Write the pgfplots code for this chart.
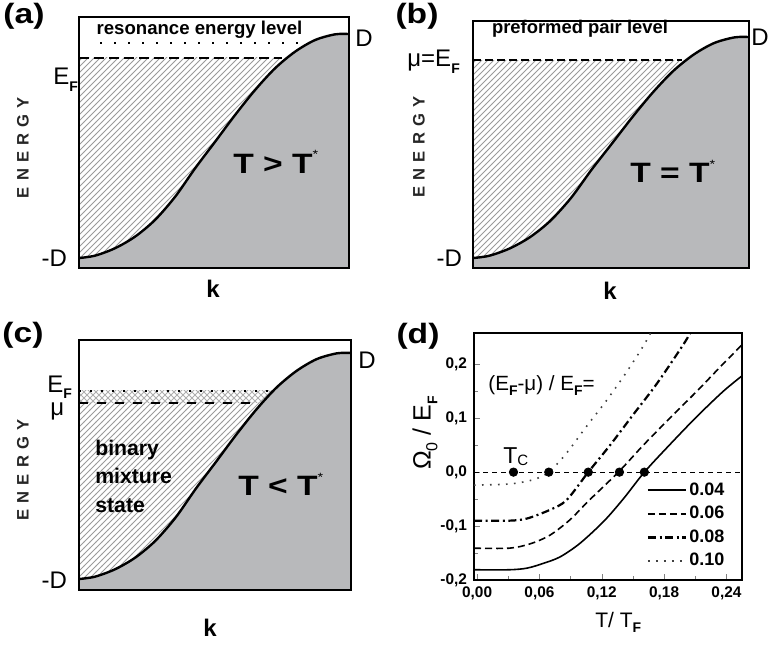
\documentclass[border=0pt]{standalone}
\usepackage{fontspec}
\setmainfont{Liberation Sans}
\usepackage{pgfplots}
\usepackage{pgfplotstable}
\pgfplotsset{compat=1.18}
\usepgfplotslibrary{fillbetween}
\usetikzlibrary{patterns}

\definecolor{shade}{HTML}{B8B9BB}
\definecolor{hatch}{HTML}{9A9A9A}

% band dispersion, k in [0,1], energy in units of D
\pgfplotstableread{
x y
0.000 -1.000
0.059 -0.979
0.133 -0.913
0.207 -0.810
0.281 -0.661
0.356 -0.453
0.430 -0.199
0.504 0.038
0.578 0.277
0.652 0.500
0.726 0.694
0.800 0.842
0.874 0.946
0.948 0.997
1.000 1.000
}\bandtab

% Omega_0/E_F vs T/T_F
\pgfplotstableread{
x y
-0.003 -0.181
0.031 -0.181
0.048 -0.178
0.064 -0.169
0.080 -0.157
0.099 -0.132
0.122 -0.091
0.141 -0.049
0.161 0.000
0.185 0.050
0.211 0.102
0.237 0.150
0.256 0.180
}\ca
\pgfplotstableread{
x y
-0.003 -0.141
0.031 -0.141
0.051 -0.133
0.070 -0.117
0.089 -0.089
0.108 -0.052
0.136 0.000
0.160 0.050
0.185 0.099
0.211 0.149
0.237 0.201
0.256 0.238
}\cb
\pgfplotstableread{
x y
-0.003 -0.090
0.031 -0.090
0.048 -0.086
0.070 -0.070
0.086 -0.052
0.107 0.000
0.128 0.050
0.150 0.106
0.173 0.164
0.199 0.238
0.207 0.265
}\cc
\pgfplotstableread{
x y
-0.003 -0.024
0.031 -0.022
0.054 -0.014
0.069 0.000
0.086 0.035
0.105 0.084
0.125 0.134
0.144 0.186
0.160 0.234
0.169 0.265
}\cd

\newcommand\fsub[1]{\raisebox{-0.5ex}{\scriptsize\bfseries #1}}
\newcommand\energy{E\kern3.1pt N\kern3.1pt E\kern3.1pt R\kern3.1pt G\kern3.1pt Y}
\newcommand\bigfont[1]{\fontsize{#1}{#1}\selectfont\bfseries\addfontfeature{FakeStretch=1.2}}
\newcommand\starmark{\raisebox{7pt}{\fontsize{6}{6}\selectfont\mdseries *}}

\pgfplotsset{band/.style={scale only axis, anchor=south west, xmin=0, xmax=1,
  ticks=none, axis line style={line width=1.1pt}, axis on top}}

\begin{document}
\begin{tikzpicture}

% (a)
\begin{axis}[band, at={(39.5pt,188pt)}, width=135pt, height=125.5pt,
  ymin=-1.089, ymax=1.152]
\addplot[name path=c, draw=none, smooth] table {\bandtab};
\addplot[name path=f, draw=none] coordinates {(0,-1.5)(1,-1.5)};
\addplot[name path=ef, draw=none] coordinates {(0,0.786)(1,0.786)};
\addplot[pattern=north east lines, pattern color=hatch, draw=none] fill between[of=ef and f];
\addplot[fill=shade, draw=none] fill between[of=c and f];
\addplot[black, line width=1.2pt, smooth] table {\bandtab};
\addplot[black, line width=1.2pt, dash pattern=on 5pt off 2.5pt] coordinates {(0,0.786)(0.75,0.786)};
\addplot[black, line width=1.2pt, dash pattern=on 1.2pt off 5.8pt] coordinates {(0.078,0.92)(0.81,0.92)};
\end{axis}

% (b)
\begin{axis}[band, at={(236.5pt,188pt)}, width=138pt, height=123.5pt,
  ymin=-1.09, ymax=1.145]
\addplot[name path=c, draw=none, smooth] table {\bandtab};
\addplot[name path=f, draw=none] coordinates {(0,-1.5)(1,-1.5)};
\addplot[name path=ef, draw=none] coordinates {(0,0.79)(1,0.79)};
\addplot[pattern=north east lines, pattern color=hatch, draw=none] fill between[of=ef and f];
\addplot[fill=shade, draw=none] fill between[of=c and f];
\addplot[black, line width=1.2pt, smooth] table {\bandtab};
\addplot[black, line width=0.8pt, dash pattern=on 4pt off 2pt] coordinates {(0,0.79)(0.757,0.79)};
\end{axis}

% (c)
\begin{axis}[band, at={(39.5pt,27pt)}, width=136pt, height=125pt,
  ymin=-1.097, ymax=1.115]
\addplot[name path=c, draw=none, smooth] table {\bandtab};
\addplot[name path=f, draw=none] coordinates {(0,-1.5)(1,-1.5)};
\addplot[name path=ef, draw=none] coordinates {(0,0.664)(1,0.664)};
\addplot[name path=mu, draw=none] coordinates {(0,0.558)(1,0.558)};
\addplot[pattern=north east lines, pattern color=hatch, draw=none] fill between[of=mu and f];
\addplot[pattern=north east lines, pattern color=hatch!80, draw=none] fill between[of=ef and mu];
\addplot[pattern=north west lines, pattern color=hatch!80, draw=none] fill between[of=ef and mu];
\addplot[fill=shade, draw=none] fill between[of=c and f];
\addplot[black, line width=1.2pt, smooth] table {\bandtab};
\addplot[black, line width=1.1pt, dash pattern=on 1pt off 4.5pt] coordinates {(0,0.664)(0.713,0.664)};
\addplot[black, line width=1.1pt, dash pattern=on 4.5pt off 4.5pt] coordinates {(0,0.558)(0.66,0.558)};
\end{axis}

% (d)
\begin{axis}[at={(237pt,32pt)}, anchor=south west, scale only axis,
  width=134pt, height=123.5pt,
  xmin=-0.003, xmax=0.255, ymin=-0.2, ymax=0.258,
  xtick={0,0.06,0.12,0.18,0.24}, ytick={-0.2,-0.1,0,0.1,0.2},
  minor x tick num=1, minor y tick num=1, xtick pos=left, ytick pos=left,
  major tick length=3pt, minor tick length=2pt,
  axis line style={line width=0.9pt},
  /pgf/number format/assume math mode=true,
  tick label style={font=\fontsize{7.7}{8}\selectfont\bfseries},
  xticklabel style={/pgf/number format/.cd, fixed, fixed zerofill, precision=2, use comma},
  yticklabel style={/pgf/number format/.cd, fixed, fixed zerofill, precision=1, use comma},
  legend style={at={(axis cs:0.163,-0.014)}, anchor=north west, draw=none, fill=none,
    font=\fontsize{9}{9}\selectfont\bfseries, row sep=1.6pt, inner sep=0pt,
    nodes={inner sep=1.2pt}},
  legend cell align=left,
  legend image code/.code={\draw[#1] (0pt,0pt) -- (19pt,0pt);},
]
\addplot[black, line width=0.6pt, dash pattern=on 2.5pt off 2pt, forget plot]
  coordinates {(-0.003,0)(0.255,0)};
\addplot[black, line width=0.8pt, smooth] table {\ca};
\addlegendentry{0.04}
\addplot[black, line width=0.8pt, smooth, dash pattern=on 3.5pt off 2pt] table {\cb};
\addlegendentry{0.06}
\addplot[black, line width=1.1pt, smooth, dash pattern=on 4pt off 1.8pt on 1pt off 1.8pt] table {\cc};
\addlegendentry{0.08}
\addplot[black!75, line width=0.8pt, smooth, dash pattern=on 0.8pt off 3.2pt] table {\cd};
\addlegendentry{0.10}
\addplot[only marks, mark=*, mark size=2.1pt, black, forget plot]
  coordinates {(0.035,0)(0.069,0)(0.107,0)(0.137,0)(0.161,0)};
\end{axis}

% panel letters
\node[font=\bigfont{14}] at (12pt,314pt) {(a)};
\node[font=\bigfont{14}] at (208.5pt,314pt) {(b)};
\node[font=\bigfont{14}] at (11.5pt,154.5pt) {(c)};
\node[font=\bigfont{14}] at (209pt,154pt) {(d)};

% (a) labels
\node[font=\fontsize{12}{12}\selectfont] at (182pt,303pt) {D};
\node[anchor=east, font=\fontsize{12}{12}\selectfont] at (37pt,193pt) {-D};
\node[anchor=base west, inner sep=0pt, font=\fontsize{12}{12}\selectfont] at (26.5pt,279.5pt) {E\fsub{F}};
\node[rotate=90, font=\fontsize{8.3}{9}\selectfont\bfseries, text=black!85] at (11.5pt,248.25pt) {\energy};
\node[font=\fontsize{12}{12}\selectfont\bfseries] at (106.5pt,177.5pt) {k};
\node[anchor=base west, inner sep=0pt, font=\bigfont{14}] at (116.5pt,235.5pt) {T > T\starmark};
\node[anchor=base, inner sep=0pt, font=\fontsize{9.3}{10}\selectfont\bfseries] at (99.75pt,304.5pt) {resonance energy level};

% (b) labels
\node[anchor=west, inner sep=0pt, font=\fontsize{12}{12}\selectfont] at (375.5pt,303.5pt) {D};
\node[anchor=east, font=\fontsize{12}{12}\selectfont] at (234.5pt,193pt) {-D};
\node[anchor=base west, inner sep=0pt, font=\fontsize{12}{12}\selectfont] at (203.5pt,288.5pt) {μ=E\fsub{F}};
\node[rotate=90, font=\fontsize{8.3}{9}\selectfont\bfseries, text=black!85] at (209.5pt,248.5pt) {\energy};
\node[font=\fontsize{12}{12}\selectfont\bfseries] at (305pt,176.5pt) {k};
\node[anchor=base west, inner sep=0pt, font=\bigfont{14}] at (315pt,230.5pt) {T = T\starmark};
\node[anchor=base, inner sep=0pt, font=\fontsize{9.2}{10}\selectfont\bfseries] at (290pt,305.3pt) {preformed pair level};

% (c) labels
\node[font=\fontsize{12}{12}\selectfont] at (183.5pt,142pt) {D};
\node[anchor=east, font=\fontsize{12}{12}\selectfont] at (37pt,32pt) {-D};
\node[anchor=base west, inner sep=0pt, font=\fontsize{12}{12}\selectfont] at (23.5pt,126pt) {E\fsub{F}};
\node[anchor=base west, inner sep=0pt, font=\fontsize{12}{12}\selectfont] at (25pt,114.5pt) {μ};
\node[rotate=90, font=\fontsize{8.3}{9}\selectfont\bfseries, text=black!85] at (11.5pt,87pt) {\energy};
\node[font=\fontsize{12}{12}\selectfont\bfseries] at (105pt,8pt) {k};
\node[anchor=base west, inner sep=0pt, font=\bigfont{14}] at (119pt,74.5pt) {T < T\starmark};
\node[anchor=base west, inner sep=0pt, font=\fontsize{10.6}{11}\selectfont\bfseries] at (47.5pt,94.5pt) {binary};
\node[anchor=base west, inner sep=0pt, font=\fontsize{10.6}{11}\selectfont\bfseries] at (47.5pt,80.5pt) {mixture};
\node[anchor=base west, inner sep=0pt, font=\fontsize{10.6}{11}\selectfont\bfseries] at (47.5pt,66pt) {state};

% (d) labels
\node[anchor=base west, inner sep=0pt, font=\fontsize{10.3}{11}\selectfont] at (244pt,127pt) {(E\fsub{F}-μ) / E\fsub{F}=};
\node[anchor=base west, inner sep=0pt, font=\fontsize{11.5}{12}\selectfont] at (251.5pt,90.5pt) {T\raisebox{-1pt}{\fontsize{7.5}{8}\selectfont C}};
\node[rotate=90, font=\fontsize{12.5}{13}\selectfont] at (212.5pt,105.5pt) {Ω\raisebox{-0.5ex}{\footnotesize 0} / E\fsub{F}};
\node[anchor=base west, inner sep=0pt, font=\fontsize{10.5}{11}\selectfont] at (297.5pt,8.5pt) {T/ T\fsub{F}};

\pgfresetboundingbox
\useasboundingbox (0,0) rectangle (385.5pt,322pt);
\end{tikzpicture}
\end{document}
